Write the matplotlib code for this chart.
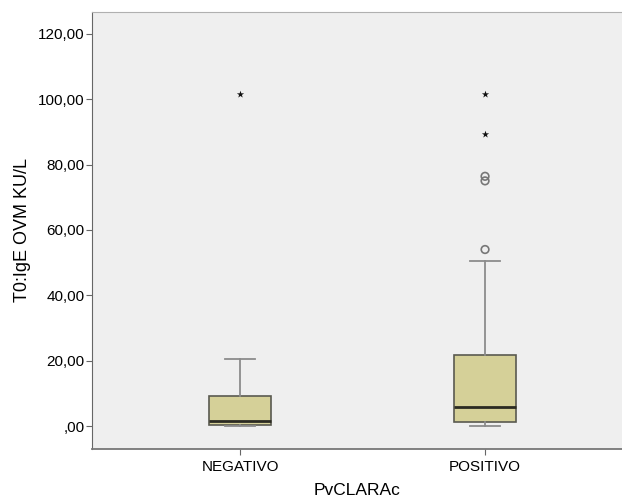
import matplotlib.pyplot as plt

plt.rcParams['font.family'] = ['Liberation Sans', 'DejaVu Sans']

# groups and box statistics
groups = ['NEGATIVO', 'POSITIVO']
q1 = [0.4, 1.3]
median = [1.5, 5.8]
q3 = [9.2, 21.7]
whislo = [0.1, 0.0]
whishi = [20.5, 50.4]
circles = [[], [54.0, 76.4, 75.0]]   # mild outliers
stars = [[101.7], [101.7, 89.2]]      # extreme outliers

yticks = [0, 20, 40, 60, 80, 100, 120]
ytick_labels = [',00', '20,00', '40,00', '60,00', '80,00', '100,00', '120,00']

stats = []
for i, g in enumerate(groups):
    stats.append(dict(label=g, q1=q1[i], med=median[i], q3=q3[i],
                      whislo=whislo[i], whishi=whishi[i], fliers=[]))

fig = plt.figure(figsize=(6.22, 4.96), dpi=100)
ax = fig.add_axes([0.148, 0.095, 0.852, 0.881])
ax.set_facecolor('#efefef')

pos = list(range(len(groups)))
ax.bxp(stats, positions=pos, widths=0.253, patch_artist=True, capwidths=0.125,
       boxprops=dict(facecolor='#d5d098', edgecolor='#5a5a50', linewidth=1.2),
       medianprops=dict(color='#2b2b22', linewidth=2),
       whiskerprops=dict(color='#8c8c8c', linewidth=1.3),
       capprops=dict(color='#8c8c8c', linewidth=1.3))

for i in pos:
    if circles[i]:
        ax.scatter([i] * len(circles[i]), circles[i], s=30, facecolors='none',
                   edgecolors='#777777', linewidths=1.2, zorder=3)
    if stars[i]:
        ax.scatter([i] * len(stars[i]), stars[i], s=30, marker='*',
                   color='#111111', linewidths=0, zorder=3)

ax.set_xlim(-0.604, 1.559)
ax.set_ylim(-7.0, 126.7)
ax.set_xticks(pos)
ax.set_xticklabels(groups, fontsize=11)
ax.set_yticks(yticks)
ax.set_yticklabels(ytick_labels, fontsize=11)
ax.tick_params(length=4.3, color='#666666')
ax.tick_params(axis='x', pad=4)
ax.tick_params(axis='y', pad=1)

ax.set_xlabel('PvCLARAc', fontsize=12.5)
ax.set_ylabel('T0:IgE OVM KU/L', fontsize=13)
ax.xaxis.set_label_coords(0.5, -0.077)
ax.yaxis.set_label_coords(-0.115, 0.5)

ax.spines['right'].set_visible(False)
ax.spines['top'].set_color('#b0b0b0')
ax.spines['left'].set_color('#666666')
ax.spines['bottom'].set_color('#777777')
ax.spines['bottom'].set_linewidth(1.3)

fig.savefig('out.png', dpi=100)
